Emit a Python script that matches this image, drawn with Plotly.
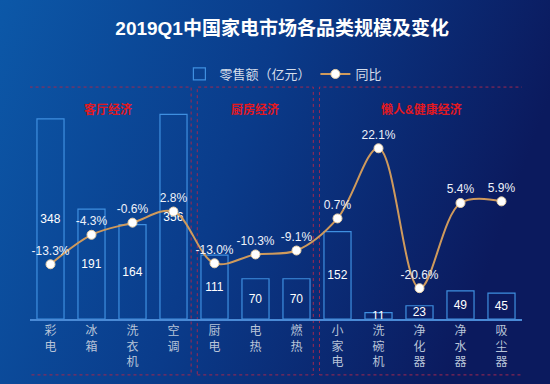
import base64
import plotly.graph_objects as go

categories = ["彩电", "冰箱", "洗衣机", "空调", "厨电", "电热", "燃热",
              "小家电", "洗碗机", "净化器", "净水器", "吸尘器"]
sales = [348, 191, 164, 356, 111, 70, 70, 152, 11, 23, 49, 45]
yoy = [-13.3, -4.3, -0.6, 2.8, -13.0, -10.3, -9.1, 0.7, 22.1, -20.6, 5.4, 5.9]
groups = ["客厅经济", "厨房经济", "懒人&健康经济"]
group_spans = [(-0.61, 3.43), (3.58, 6.41), (6.56, 11.55)]

tick_text = ["<br>".join(list(c)) for c in categories]
yoy_text = [f"{v:.1f}%" for v in yoy]

FONT = "Arial, Liberation Sans, Noto Sans CJK SC, sans-serif"

svg = """<svg xmlns='http://www.w3.org/2000/svg' width='550' height='384'>
<defs><linearGradient id='g' x1='0' y1='0' x2='1' y2='0.25'>
<stop offset='0' stop-color='#0c58a8'/>
<stop offset='0.5' stop-color='#0a3b8a'/>
<stop offset='1' stop-color='#0b1a5e'/>
</linearGradient></defs>
<rect width='550' height='384' fill='url(#g)'/></svg>"""
bg_uri = "data:image/svg+xml;base64," + base64.b64encode(svg.encode()).decode()

ML, MR, MT, MB = 30, 28, 88, 65
W, H = 550, 384
PW, PH = W - ML - MR, H - MT - MB

fig = go.Figure()
fig.add_trace(go.Bar(
    x=categories, y=sales, name="零售额（亿元）",
    marker=dict(color="rgba(0,0,0,0)", line=dict(color="#3f8fe0", width=1.2)),
    width=0.66,
    text=[str(v) for v in sales], textposition="inside", insidetextanchor="middle",
    constraintext="none", textangle=0, cliponaxis=False,
    textfont=dict(color="#ffffff", size=12, family=FONT),
    yaxis="y",
))
fig.add_trace(go.Scatter(
    x=categories, y=yoy, name="同比", mode="lines+markers+text",
    line=dict(color="#cf9a5c", width=2, shape="spline", smoothing=1),
    marker=dict(color="#ffffff", size=9, line=dict(color="#e8d0a8", width=1)),
    text=yoy_text, textposition="top center",
    textfont=dict(color="#eef2fa", size=12, family=FONT),
    cliponaxis=False,
    yaxis="y2",
))

shapes = []
annotations = []
for (x0, x1), g in zip(group_spans, groups):
    shapes.append(dict(type="rect", xref="x", yref="paper", x0=x0, x1=x1,
                       y0=-0.242, y1=1.004,
                       line=dict(color="#a02850", width=1, dash="dot"),
                       fillcolor="rgba(0,0,0,0)", layer="below"))
    annotations.append(dict(xref="x", yref="paper", x=(x0 + x1) / 2, y=0.948,
                            text=f"<b>{g}</b>", showarrow=False,
                            font=dict(color="#e3181f", size=12, family=FONT)))

fig.update_layout(
    width=W, height=H,
    margin=dict(l=ML, r=MR, t=MT, b=MB, autoexpand=False),
    paper_bgcolor="#0a3b8a", plot_bgcolor="rgba(0,0,0,0)",
    images=[dict(source=bg_uri, xref="paper", yref="paper",
                 x=-ML / PW, y=1 + MT / PH, sizex=W / PW, sizey=H / PH,
                 xanchor="left", yanchor="top", sizing="stretch", layer="below")],
    title=dict(text="<b>2019Q1中国家电市场各品类规模及变化</b>", x=0.513, xanchor="center",
               y=1 - 28 / H, yanchor="middle",
               font=dict(color="#ffffff", size=19, family=FONT)),
    legend=dict(orientation="h", x=0.515, xanchor="center", y=(H - MB - 74) / PH,
                yanchor="middle", font=dict(color="#d5ddea", size=13, family=FONT),
                bgcolor="rgba(0,0,0,0)", itemwidth=30),
    xaxis=dict(type="category", tickvals=categories, ticktext=tick_text,
               showline=True, linecolor="#4a8ad6", linewidth=1.5,
               showgrid=False, zeroline=False, ticks="",
               tickfont=dict(color="#b8c4d8", size=12, family=FONT),
               range=[-0.5, 11.5]),
    yaxis=dict(range=[0, 401.7], visible=False, showgrid=False, zeroline=False),
    yaxis2=dict(range=[-30, 40.5], visible=False, overlaying="y", showgrid=False,
                zeroline=False),
    shapes=shapes, annotations=annotations,
    showlegend=True,
)

fig.write_html("out.html", config={"displayModeBar": False},
               post_script="document.body.style.margin='0';document.body.style.background='#0a3b8a';")
